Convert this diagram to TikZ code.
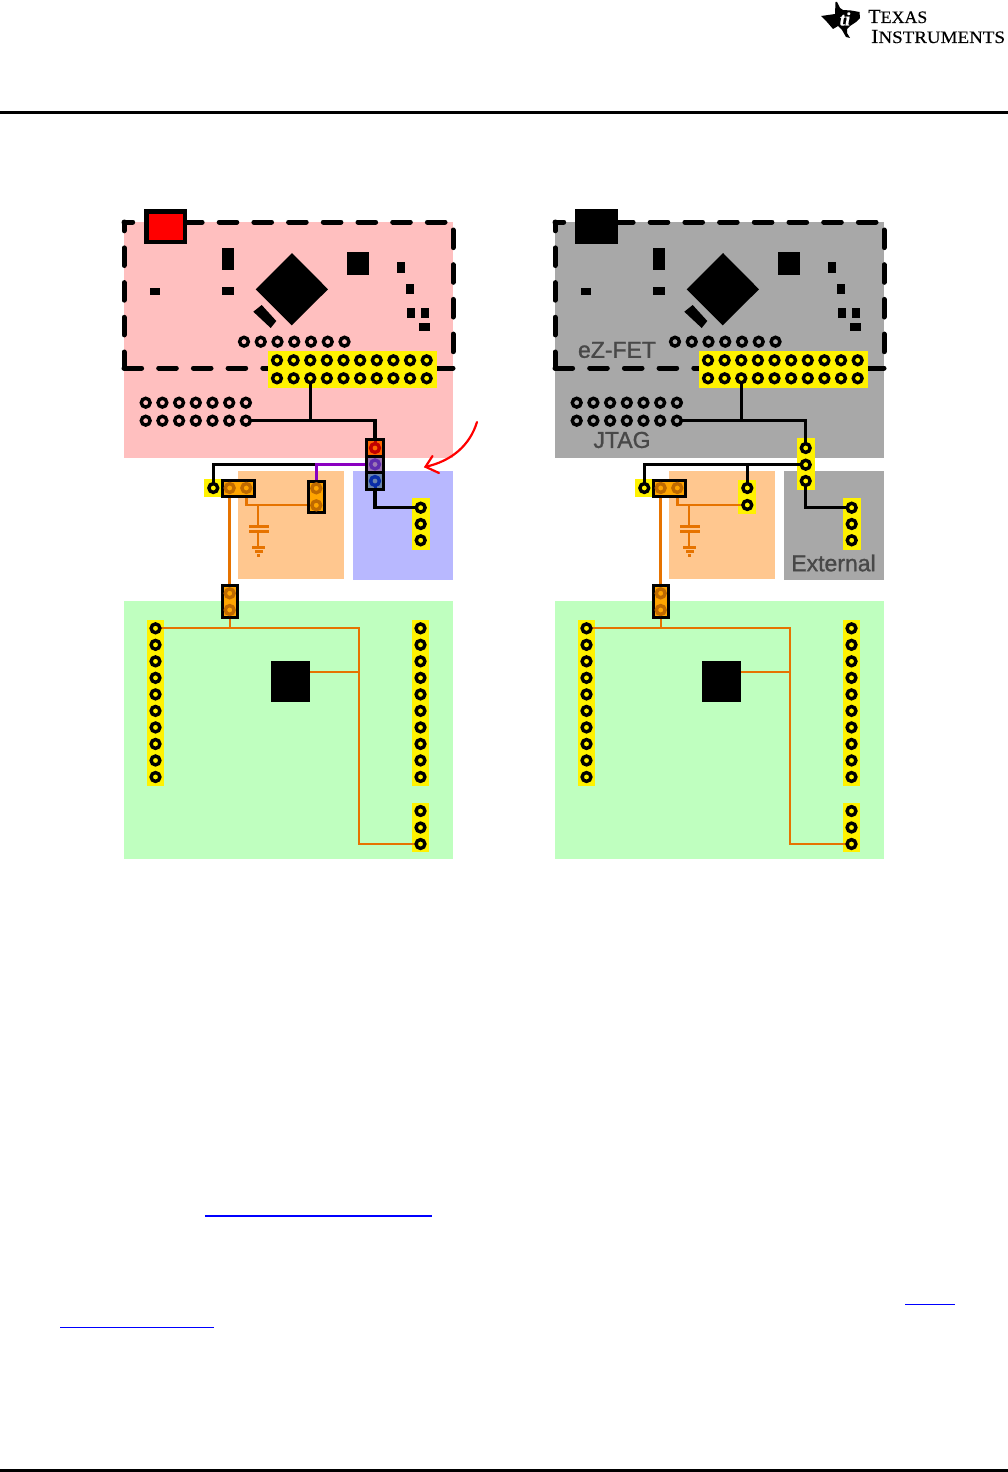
\documentclass[tikz,border=0pt]{standalone}
\usepackage{fontspec}
\setmainfont{Liberation Sans}
\newfontfamily\logofont[FakeBold=0.35]{Liberation Serif}
\newfontfamily\lblfont[FakeBold=1.2]{Liberation Sans}
\usetikzlibrary{calc}
\pgfdeclarelayer{wire}
\pgfdeclarelayer{front}
\pgfsetlayers{main,wire,front}
\definecolor{pinkbg}{HTML}{FFBFBF}
\definecolor{greybg}{HTML}{A8A8A8}
\definecolor{greenbg}{HTML}{BFFFBF}
\definecolor{peach}{HTML}{FFC78F}
\definecolor{lilac}{HTML}{B8B8FF}
\definecolor{wireorange}{HTML}{E67300}
\definecolor{jumperfill}{HTML}{FFA500}
\definecolor{jumperring}{HTML}{BF6A00}
\definecolor{labelgrey}{HTML}{484848}
\definecolor{purplewire}{HTML}{8A00C0}
\definecolor{linkblue}{HTML}{0000FF}
\definecolor{cellA}{HTML}{FF6600}
\definecolor{cellB}{HTML}{9C78B4}
\definecolor{cellC}{HTML}{6C85AE}
\definecolor{ringA}{HTML}{C00000}
\definecolor{ringB}{HTML}{5F2DAE}
\definecolor{ringC}{HTML}{0A2EA8}
\tikzset{
  pinnode/.style={circle,draw=black,line width=3.4,minimum size=8.8,inner sep=0,outer sep=0},
  jpin/.style={circle,draw=jumperring,line width=3.4,minimum size=8.8,inner sep=0,outer sep=0},
  cellpin/.style={circle,draw=#1,line width=3.4,minimum size=8.8,inner sep=0,outer sep=0},
  jumperbox/.style={rectangle,fill=jumperfill,draw=black,line width=3,inner sep=0,outer sep=0},
  cellbox/.style={rectangle,fill=#1,draw=black,line width=3,inner sep=0,outer sep=0,minimum width=16.6,minimum height=16.5},
  blw/.style={draw=black,line width=3.2,line join=miter},
  olw/.style={draw=wireorange,line width=2.2},
  olwthick/.style={draw=wireorange,line width=3},
  dashedge/.style={draw=black,line width=5,line cap=round,dash pattern=on 17.6 off 17.1},
  boardlabel/.style={text=labelgrey,font=\lblfont\fontsize{23}{25}\selectfont,inner sep=0},
  compo/.style={fill=black}
}
\newcommand\board[3]{%
  % board colours
  \fill[#2] (124,222) rectangle (453,458);
  \fill[peach] (238.3,471) rectangle (344.3,578.7);
  \fill[#3] (352.7,471) rectangle (453,580);
  \fill[greenbg] (124,601) rectangle (453,859);
  % dashed outline of the debug section
  \draw[dashedge,dash phase=1.6] (124,368) -- (124,222);
  \draw[dashedge,dash phase=8.9] (124,222) -- (453,222);
  \draw[dashedge,dash phase=26.7] (453,222) -- (453,368);
  \draw[dashedge] (124,368) -- (453,368);
  % parts on the debug section
  \fill[compo] (222,248) rectangle (234,270);
  \fill[compo] (222,287) rectangle (234,295);
  \fill[compo] (150,288) rectangle (160,295);
  \fill[compo] (347,252) rectangle (369,275);
  \fill[compo] (292,253) -- (328,289.3) -- (291.7,325.3) -- (255.7,289.3) -- cycle;
  \fill[compo] (261.7,305) -- (276.3,321) -- (270.7,328) -- (253.3,311.7) -- cycle;
  \fill[compo] (397,262) rectangle (405,273);
  \fill[compo] (406,284) rectangle (414,294);
  \fill[compo] (407,308) rectangle (415,318);
  \fill[compo] (421,308) rectangle (429,318);
  \fill[compo] (419,323) rectangle (430,331);
  \node[fill=black,inner sep=0,outer sep=0,minimum width=39.5,minimum height=41] (#1chip) at (290.5,681.5) {};
  % yellow header backgrounds
  \fill[yellow] (267.7,351) rectangle (437,387.7);
  \fill[yellow] (204,479) rectangle (222,497);
  \fill[yellow] (411.7,498) rectangle (430,550);
  \fill[yellow] (147,620) rectangle (164,786);
  \fill[yellow] (412,620) rectangle (429,786);
  \fill[yellow] (412,803) rectangle (429,852);
  \begin{pgfonlayer}{front}
    \foreach \i in {0,...,6}{
      \node[pinnode] (#1r\i) at ({244+16.75*\i},341.7) {};
      \node[pinnode] (#1ja\i) at ({145.7+16.7*\i},402.7) {};
      \node[pinnode] (#1jb\i) at ({145.7+16.7*\i},420.7) {};
    }
    \foreach \i in {0,...,9}{
      \node[pinnode] (#1ha\i) at ({277+16.63*\i},360.3) {};
      \node[pinnode] (#1hb\i) at ({277+16.63*\i},378.3) {};
      \node[pinnode] (#1gl\i) at (155.5,{628.3+16.52*\i}) {};
      \node[pinnode] (#1gr\i) at (420.5,{628.3+16.52*\i}) {};
    }
    \foreach \i in {0,1,2}{
      \node[pinnode] (#1gb\i) at (420.5,{811+16.5*\i}) {};
      \node[pinnode] (#1ex\i) at (420.7,{507.7+16.3*\i}) {};
    }
    \node[pinnode] (#1sw) at (213.3,488) {};
    \node[jumperbox,minimum width=32,minimum height=16] (#1jh) at (238.3,488.3) {};
    \node[jpin] (#1jha) at (229.7,488) {};
    \node[jpin] (#1jhb) at (246.3,488) {};
    \node[jumperbox,minimum width=15,minimum height=32] (#1jg) at (229.9,601.5) {};
    \node[jpin] (#1jga) at (229.7,593.3) {};
    \node[jpin] (#1jgb) at (229.7,610) {};
  \end{pgfonlayer}
  \begin{pgfonlayer}{wire}
    \draw[blw] (#1hb2) -- (#1hb2 |- #1jb6);
    \draw[olwthick] (#1jg.north) -- (#1jg.north |- #1jh.south);
    \coordinate (#1bus) at (359,628.3);
    \draw[olw] (#1jgb) -- (#1jgb |- #1bus);
    \draw[olw] (#1gl0) -- (#1bus) |- (#1gb2);
    \coordinate (#1chipw) at (310,672);
    \draw[olw] (#1chipw) -- (#1chipw -| #1bus);
    \coordinate (#1capt) at (258.3,505);
    \coordinate (#1capa) at (258.3,526.5);
    \coordinate (#1capb) at (258.3,531.5);
    \coordinate (#1capg) at (258.3,547);
    \draw[olw] (#1capt) -- (#1capa);
    \draw[olw] (#1capb) -- (#1capg);
    \fill[wireorange] (249,525) rectangle (269,527.7);
    \fill[wireorange] (249,530) rectangle (269,533);
    \fill[wireorange] (252,546) rectangle (265,549);
    \fill[wireorange] (255,550.3) rectangle (262.7,553);
    \fill[wireorange] (256.7,554) rectangle (260,556.7);
  \end{pgfonlayer}
}
\begin{document}
\begin{tikzpicture}[x=1pt,y=-1pt]
\useasboundingbox (0,0) rectangle (1008,1472);
\fill[white] (0,0) rectangle (1008,1472);
% page furniture
\coordinate (ruleL) at (0,112.3);
\coordinate (ruleR) at (1008,112.3);
\draw[line width=3,black] (ruleL) -- (ruleR);
\fill[black] (0,1469) rectangle (1008,1472);
\fill[black] (837,2) -- (840,8) -- (843,10) -- (851,10.5) -- (859.5,12) -- (860,18) -- (856,22) -- (850,26) -- (847,29) -- (847,33) -- (850,38)
  -- (846,37) -- (842,30) -- (838,26) -- (833,29) -- (827,22) -- (821,16) -- (835,14) -- (835.5,2) -- cycle;
\node[text=white,inner sep=0,anchor=center,font=\logofont\bfseries\itshape\fontsize{19}{19}\selectfont] (logoti) at (845,19) {ti};
\node[anchor=base west,inner sep=0,font=\logofont] (logotop) at (868,23) {\scalebox{1.02}[1]{\fontsize{20}{20}\selectfont T\fontsize{17.5}{16}\selectfont EXAS}};
\node[anchor=base west,inner sep=0,font=\logofont] (logobot) at (871,43) {\scalebox{1.085}[1]{\fontsize{20}{20}\selectfont I\fontsize{17.5}{16}\selectfont NSTRUMENTS}};
\coordinate (lnkAa) at (205,1216); \coordinate (lnkAb) at (432,1216);
\coordinate (lnkBa) at (905,1304.5); \coordinate (lnkBb) at (955,1304.5);
\coordinate (lnkCa) at (60,1327.5); \coordinate (lnkCb) at (214,1327.5);
\draw[linkblue,line width=1.3] (lnkAa) -- (lnkAb);
\draw[linkblue,line width=1.3] (lnkBa) -- (lnkBb);
\draw[linkblue,line width=1.3] (lnkCa) -- (lnkCb);
% ---------- left board
\board{L}{pinkbg}{lilac}
\node[fill=black,inner sep=0,outer sep=0,minimum width=43,minimum height=35] (Lpow) at (165.5,226.5) {};
\fill[red] (149,214) rectangle (183,240);
\begin{pgfonlayer}{front}
  \node[jumperbox,minimum width=15.4,minimum height=30.7] (Ljv) at (316.5,496.8) {};
  \node[jpin] (Ljva) at (316.3,488.3) {};
  \node[jpin] (Ljvb) at (316.3,505.3) {};
  \node[cellbox=cellA] (Lc0) at (375,448) {};
  \node[cellbox=cellB] (Lc1) at (375,464.5) {};
  \node[cellbox=cellC] (Lc2) at (375,481) {};
  \node[cellpin=ringA] (Lp0) at (375,448) {};
  \node[cellpin=ringB] (Lp1) at (375,464.4) {};
  \node[cellpin=ringC] (Lp2) at (375,481) {};
  \draw[ringA,line width=3] ([yshift=-1.5pt]Lc0.north) -- (Lp0);
  \draw[ringC,line width=3] ([yshift=1.5pt]Lc2.south) -- (Lp2);
  \coordinate (arS) at (477,422);
  \coordinate (arT) at (425.5,466.8);
  \coordinate (arA) at (432.5,456);
  \coordinate (arB) at (439,473);
  \draw[red,line width=2.2,line cap=round] (arS) .. controls (470,445) and (452,461) .. (arT);
  \draw[red,line width=2.2,line cap=round,line join=miter] (arA) -- (arT) -- (arB);
\end{pgfonlayer}
\begin{pgfonlayer}{wire}
  \coordinate (Lsplit) at (Ljv |- Lp1);
  \draw[blw] (Ljb6) -| (Lc0);
  \draw[blw] (Lsplit) -| (Lsw);
  \draw[draw=purplewire,line width=3] (Lp1) -- (Lsplit) -- (Ljv);
  \draw[blw] (Lc2) |- (Lex0);
  \draw[olw] (Ljhb) |- (Ljvb);
  \draw[olwthick] (Ljhb) -- (Ljhb |- Ljvb);
\end{pgfonlayer}
% ---------- right board
\begin{scope}[shift={(431,0)}]
\board{R}{greybg}{greybg}
\node[fill=black,inner sep=0,outer sep=0,minimum width=43,minimum height=35] (Rpow) at (165.5,226.5) {};
\fill[yellow] (366.3,438.3) rectangle (384,490);
\fill[yellow] (307,480.3) rectangle (325.3,513.7);
\begin{pgfonlayer}{front}
  \node[pinnode] (Rt0) at (374.7,448) {};
  \node[pinnode] (Rt1) at (374.7,464.7) {};
  \node[pinnode] (Rt2) at (374.7,481) {};
  \node[pinnode] (Rja) at (316.3,488) {};
  \node[pinnode] (Rjb) at (316.3,505) {};
  \node[boardlabel] (lblFet) at (186,350) {eZ-FET};
  \node[boardlabel] (lblJtag) at (191,440) {JTAG};
  \node[boardlabel] (lblExt) at (402.5,563) {External};
\end{pgfonlayer}
\begin{pgfonlayer}{wire}
  \draw[blw] (Rjb6) -| (Rt0);
  \draw[blw] (Rt1) -| (Rsw);
  \draw[blw] (Rja) -- (Rja |- Rt1);
  \draw[blw] (Rt2) |- (Rex0);
  \draw[olw] (Rjhb) |- (Rjb);
  \draw[olwthick] (Rjhb) -- (Rjhb |- Rjb);
\end{pgfonlayer}
\end{scope}
\end{tikzpicture}
\end{document}
